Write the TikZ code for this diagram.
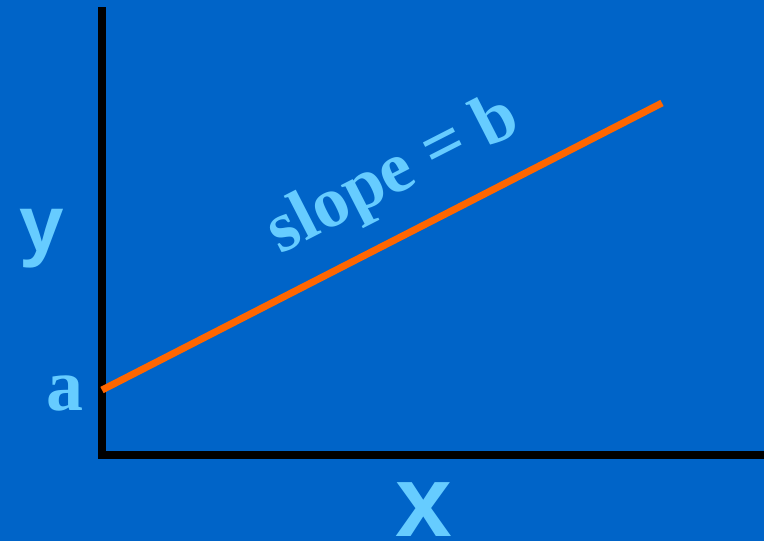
\documentclass[tikz,border=0pt]{standalone}
\usepackage{fontspec}
\setmainfont{Liberation Serif}
\newfontfamily\lblserif{Liberation Serif}
\newfontfamily\lblsans{Liberation Sans}
\definecolor{bgblue}{HTML}{0064C8}
\definecolor{lblue}{HTML}{66CCFF}
\definecolor{lorange}{HTML}{FF6600}
\begin{document}
\begin{tikzpicture}[x=1pt,y=-1pt,
  axis/.style={line width=8pt,black},
  fitline/.style={line width=7pt,lorange},
  serifbold/.style={text=lblue,inner sep=0pt,font=\lblserif\bfseries\fontsize{74}{80}\selectfont},
  sanslbl/.style={text=lblue,inner sep=0pt}]
\fill[bgblue] (0,0) rectangle (764,541);
\useasboundingbox (0,0) rectangle (764,541);
\coordinate (ytop) at (102,7);
\coordinate (origin) at (102,455);
\coordinate (xend) at (764,455);
\coordinate (ycut) at (102,390);
\coordinate (lend) at (662,103);
\draw[axis] (ytop) -- (origin) -- (xend);
\draw[fitline] (ycut) -- (lend);
\node[serifbold,anchor=base] (alab) at (64.5,410) {a};
\node[serifbold,anchor=base,rotate=27.1,font=\lblserif\bfseries\fontsize{72}{80}\selectfont] (slope) at (402,192) {slope = b};
\node[sanslbl,anchor=base,font=\lblsans\bfseries\fontsize{80}{90}\selectfont] (ylab) at (41.5,251) {y};
\node[sanslbl,anchor=base,font=\lblsans\bfseries\fontsize{102}{110}\selectfont] (xlab) at (423.5,536) {x};
\end{tikzpicture}
\end{document}
